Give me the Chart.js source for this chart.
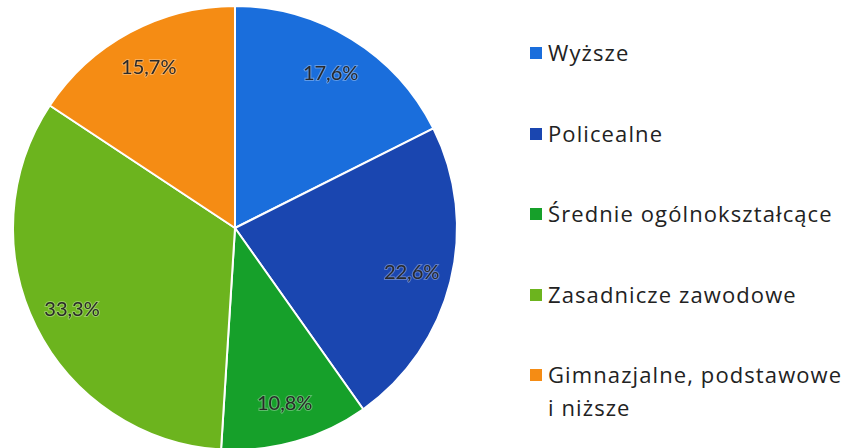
<!DOCTYPE html>
<html>
<head>
<meta charset="utf-8">
<script src="https://cdn.jsdelivr.net/npm/chart.js@4"></script>
<style>
  html, body { margin: 0; padding: 0; background: #fff; width: 850px; height: 448px; overflow: hidden; }
  #wrap { position: absolute; left: 0; top: 0; width: 470px; height: 456px; }
  #legend { position: absolute; left: 530px; top: 0; font-family: "Open Sans", sans-serif; font-size: 22px; letter-spacing: 1.1px; color: #222; }
  .item { position: absolute; left: 0; white-space: nowrap; line-height: 33px; }
  .box { position: absolute; left: 0; top: 11px; width: 12px; height: 12px; }
  .txt { position: absolute; left: 18px; top: 0; }
</style>
</head>
<body>
<div id="wrap"><canvas id="myChart"></canvas></div>
<div id="legend"></div>
<script>
const labels = ['Wyższe', 'Policealne', 'Średnie ogólnokształcące', 'Zasadnicze zawodowe', 'Gimnazjalne, podstawowe\ni niższe'];
const values = [17.6, 22.6, 10.8, 33.3, 15.7];
const colors = ['rgb(26,110,220)', 'rgb(26,70,176)', 'rgb(22,160,42)', 'rgb(108,180,30)', 'rgb(245,140,20)'];
const legendTops = [36, 117, 197, 278, 358];

// legend
const legend = document.getElementById('legend');
labels.forEach(function (l, i) {
    const div = document.createElement('div');
    div.className = 'item';
    div.style.top = legendTops[i] + 'px';
    div.innerHTML = '<span class="box" style="background:' + colors[i] + '"></span><span class="txt">' + l.replace('\n', '<br>') + '</span>';
    legend.appendChild(div);
});

const pctLabels = {
    id: 'pctLabels',
    afterDatasetsDraw(chart) {
        const ctx = chart.ctx;
        const meta = chart.getDatasetMeta(0);
        ctx.save();
        ctx.font = '20px Lato, sans-serif';
        ctx.textAlign = 'center';
        ctx.textBaseline = 'middle';
        meta.data.forEach(function (arc, i) {
            const p = arc.getProps(['startAngle', 'endAngle', 'x', 'y', 'outerRadius']);
            const mid = (p.startAngle + p.endAngle) / 2;
            const r = p.outerRadius * 0.82;
            const x = p.x + Math.cos(mid) * r;
            const y = p.y + Math.sin(mid) * r;
            const t = values[i].toFixed(1).replace('.', ',') + '%';
            ctx.lineWidth = 2;
            ctx.strokeStyle = 'rgba(255,255,255,0.3)';
            ctx.strokeText(t, x, y);
            ctx.fillStyle = '#2a2a2a';
            ctx.fillText(t, x, y);
        });
        ctx.restore();
    }
};

const ctx = document.getElementById('myChart').getContext('2d');
const chart = new Chart(ctx, {
    type: 'pie',
    data: {
        labels: labels,
        datasets: [{
            data: values,
            backgroundColor: colors,
            borderColor: '#fff',
            borderWidth: 2
        }]
    },
    options: {
        responsive: true,
        maintainAspectRatio: false,
        animation: false,
        layout: { padding: 5 },
        plugins: {
            legend: { display: false },
            tooltip: { enabled: false }
        }
    },
    plugins: [pctLabels]
});
</script>
</body>
</html>
